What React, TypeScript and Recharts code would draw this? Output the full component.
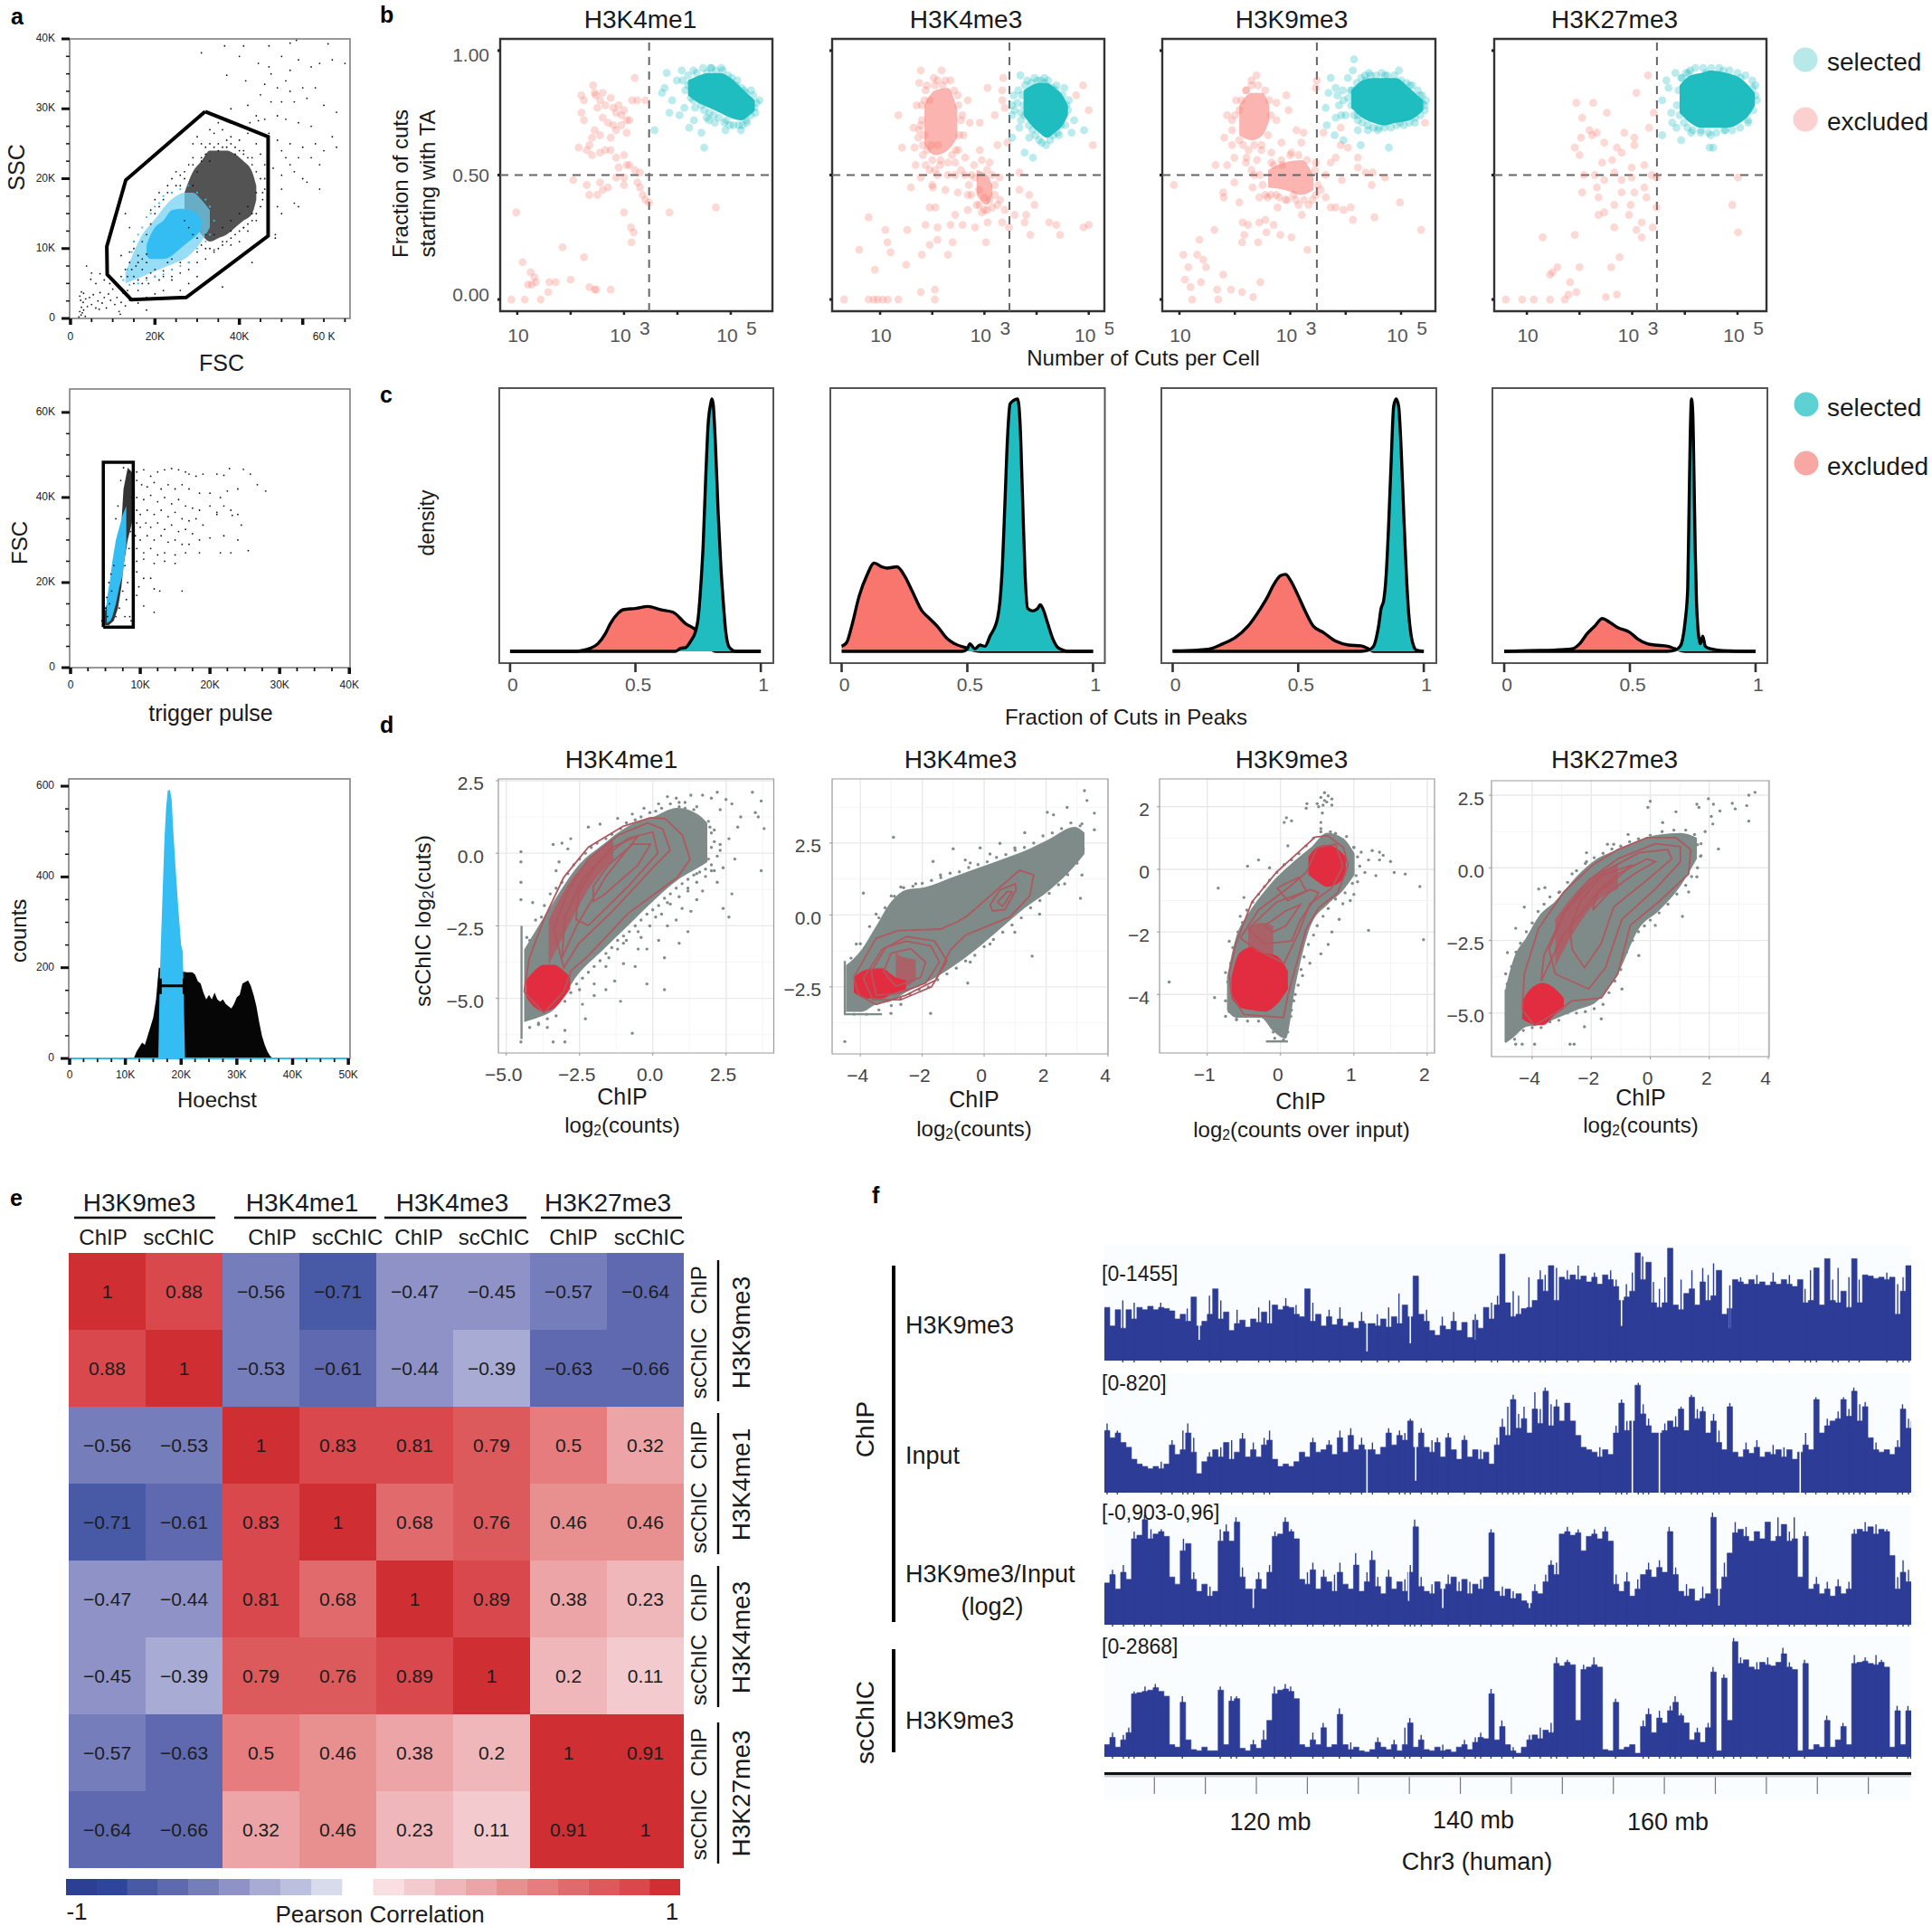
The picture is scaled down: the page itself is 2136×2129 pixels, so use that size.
import React from 'react';
import { ComposedChart, BarChart, Area, Bar, Cell, Scatter, XAxis, YAxis, ReferenceLine, ReferenceArea, CartesianGrid, Line } from 'recharts';

const FONT = '"Liberation Sans", Arial, sans-serif';
type P = number[];

// ---------- panel a ----------
const gateA1: P[] = [[31.9,29.6],[46.8,26],[46.8,11.8],[27.4,3],[14.4,2.7],[8.7,6.3],[8.6,10.3],[13.1,19.8],[31.9,29.6]];
const a1Dots: P[] = [[36.5,39],[41,39],[47,39],[52,39.4],[53.5,39.8],[61,39.3],[31,38],[40,37.5],[44.5,36.5],[47,36],[50,37.5],[54,37],[57,36],[59,36.5],[62,37],[65,36.5],[52,35.5],[41.5,34],[47.5,35],[51,34],[46,33.5],[37,34.8],[49,33],[52,32.5],[55,33],[58,33],[45,32],[47.5,31],[50,31],[53,31],[56,31.5],[60,30.5],[63,29.5],[38,30],[42,30.5],[44,29],[46,28.5],[49,29],[51,28.5],[54,28],[57,27.5],[42.5,28],[44.5,28.3],[47,26.5],[49,25.5],[52,25],[55,24.5],[58,25],[60,24],[62,26],[63,24.5],[50,24],[51,23],[54,23],[57,23],[59,22],[52,22],[48,21.5],[50,20.5],[53,21],[55,20],[56,19.5],[59,18.5],[50,18.5],[53,16.5],[49,16],[54,16],[50,15],[48.5,12],[48.5,11.5],[43,8],[36,4.5],[30,26],[32,24.5],[34,26.5],[36,27],[38,26],[40,25.5],[42,26.5],[44,25],[29,23],[31,22.5],[33,22.5],[35,24],[37,24.5],[39,23.5],[41,24],[43,23],[45,23.5],[46,20],[46,22],[45.5,18],[28,22],[27,20],[26,19],[25,21],[24,18],[44,14],[42,12.5],[43,15],[41,13],[40,11],[38,10.5],[36,11],[34,9.5],[32,8.5],[30,8],[38,12.5],[30,6],[28,5],[26,4],[24,5.5],[22,4],[20,3.5],[18,3],[16,4],[15,6],[17,7],[14,8],[16,9],[13,7],[12,9],[12,6],[18,8],[20,7],[22,6],[24,7],[26,6.5],[28,7],[18.5,5],[15,11],[14,13],[13,15],[2,0.2],[2.2,1],[2.5,0.5],[2.6,1.6],[2.8,0.8],[3,2.3],[3.1,1.2],[3.5,0.3],[3.6,2.8],[4,1.7],[4.5,3],[5,2],[5.4,3.4],[6,1.5],[6.5,2.5],[6.8,1.3],[7,3.7],[7.5,2.2],[8,3],[8.5,1.5],[9,3.5],[9.5,2.6],[10,4.2],[10.5,2],[11,3],[11.5,1],[12,2.3],[12.5,3.6],[13,1.8],[13.5,4],[14,2.6],[11.8,0.6],[9.3,5],[8,5.5],[6,5],[4.8,5.6],[3.8,7.5],[5,6.5],[2.6,3.8],[2.2,3.2],[2.4,2.6],[3.1,3.6],[7,6.4],[18,1.2],[16,2.2]];
const a1Dense: P[] = [[27,14],[28,13],[28,19],[29,12],[29,22],[30,11.5],[30,21],[31,10.5],[31,23],[32,10],[32,23.5],[33,10],[33,25],[34,9.8],[34,24.5],[35,10],[35,25],[36,10.5],[36,24.5],[37,11],[37,25.5],[38,11.5],[38,25],[39,12],[39,24.5],[40,12.5],[40,24],[41,13],[41,23.5],[42,13.5],[42,23],[43,14],[43,22],[44,15],[44,21],[45,16],[45,20],[45.5,17],[46,18.5],[24,6],[23,8],[22,6.8],[21,5.5],[20,6],[19,6.5],[18,5.8],[17,5],[16,5.5],[15,5],[14.5,7],[13.5,6],[15.5,7.5],[17,8.5],[18,9.2],[16,8],[14,9.5],[15,10],[17,11],[18,12],[19,13.5],[20,15],[21,16],[22,17],[23,18],[25,19],[26,20.5],[27,21],[24,20],[23,19],[21,18],[20,17],[19,15.5],[29,19],[30,9.5],[28,8],[26,8],[24,8.5],[32,12],[34,12],[36,13],[38,14],[40,15],[42,16],[44,18],[31,25],[33,27],[35,28],[29,25],[38,28]];
const a1BlueDots: P[] = [[12.5,5.5],[13.5,7],[14.5,9.5],[15,11],[16,12],[17,13],[18,14.5],[19,15],[20,16],[21,16.5],[22,17.5],[24,18],[26,18.5],[28,19],[30,18],[32,17],[33,16],[34,14],[33,12],[32,11],[30,10],[28,8],[26,7.5],[24,7],[22,6.3],[20,6],[18,5.5],[16,5],[14,4.8]];
const a1Black: P[] = [[27,15,18],[29,13.5,21],[31,12,22.5],[33,11,24],[35,11.5,24],[37,12,24],[39,13,23.5],[41,14,22.5],[43,15,21],[44,17,19]];
const a1Halo: P[] = [[13,5,6.5],[15,5.5,9.5],[17,6,12],[19,6.5,13.5],[21,7,15],[23,7.5,16.5],[25,8,17.5],[27,8.5,18],[29,9.5,18],[31,11,17],[33,13,15.5]];
const a1Core: P[] = [[18,9,10.5],[19,8.5,12],[20,8.5,13],[22,8.5,14],[24,9,15.5],[26,10,15.7],[28,11,15.5],[30,12,15],[31,12.8,14]];
const gateA2: P[] = [[4.7,9.5],[9,9.5],[9,48.3],[4.7,48.3],[4.7,9.5]];
const a2Dots: P[] = [[9.5,46],[10.5,46.5],[11.5,45],[12.5,46],[13.5,46.5],[14.5,46.8],[15.5,46.5],[16.5,46],[17,45.5],[18,45],[19,45.5],[21,45.5],[22,45.2],[22.8,46.8],[24.8,46.6],[25.8,45.5],[26.8,43],[28,41.5],[9.5,44],[10.2,43],[11,42.5],[12,43.5],[13,42],[14,43],[15,42],[16,43],[17,42],[18.5,41],[20,41],[21.5,40],[22.5,41.5],[24,42],[9.5,40],[10.5,39.5],[11.5,40.5],[12.5,39],[13.5,40],[14.5,38.5],[15.5,39.5],[16.5,38],[17.5,37.5],[18.5,37],[20,38],[21,36.5],[22,38],[23,37],[24,36],[9.5,37],[10,36],[11,37],[12,36],[13,37],[14,35.5],[15,36.5],[16,35],[17,34.5],[18,35],[19,33.5],[21,36],[23.2,35.8],[24.5,33.5],[9.5,34],[10,33],[10.8,34],[11.5,33],[12.5,34],[13.5,32.5],[14.5,33.5],[15.5,32],[16.5,32.5],[17.5,31.5],[18.5,30],[20,30.5],[22,31],[24,30],[9.3,31],[10,30],[11,31],[12,30],[13,31],[14,29.5],[15,30],[16,29],[17,29],[18.5,27],[9.5,28],[10.5,27],[11.5,28],[12.5,26.5],[13.5,27],[15,26.5],[16.5,27],[21.5,27],[23,27],[25.5,27.5],[9.5,25],[10.5,25.5],[12,24.5],[13.5,25],[15,24.5],[9.5,22.5],[10.5,21],[11.5,21],[9.8,19],[12,18.5],[12.8,18],[16,18],[9.5,17],[10.5,14.5],[12,13],[4.5,11],[5.3,12],[5.6,15],[5.9,18],[5,14],[5.2,16.5],[5.5,20],[5.8,22],[6.2,24],[7.8,12],[8,16],[8.2,20],[7.5,18],[7.8,24],[8.5,12],[8.7,11],[7,14],[6.5,12],[8.4,28],[8.6,32],[8.9,36],[8.8,40],[8.4,46],[7.6,47],[7.2,44],[6.8,38],[6.5,35]];
const a2Black: P[] = [[4.9,10,13],[5.5,10,17],[6.2,11,22],[6.8,14,27],[7.3,19,34],[7.6,24,42],[8.2,30,47],[8.8,34,46],[9,38,44]];
const a2Blue: P[] = [[5.2,10.5,16],[5.7,11,21],[6,12,25],[6.5,15,30],[7,19,33],[7.5,22,36],[8,29,38]];
const histBlack: P[] = [[11.5,0],[12,15],[12.5,25],[13,35],[13.5,30],[14,50],[14.5,70],[15,90],[15.5,130],[16,200],[21,190],[22,190],[22.5,185],[23,170],[23.5,165],[24,145],[24.5,130],[25,140],[25.5,130],[26,145],[26.5,130],[27,125],[27.5,130],[28,120],[29,110],[29.5,120],[30,135],[30.5,140],[31,165],[32,172],[32.5,160],[33,140],[33.5,115],[34,80],[34.5,50],[35,30],[35.5,15],[36,5],[36.5,0]];
const histBlue: P[] = [[15.9,0],[16.2,190],[16.5,300],[17,480],[17.3,550],[17.6,590],[18,592],[18.3,570],[18.6,500],[19,420],[19.5,330],[20,250],[20.3,235],[20.7,0]];

// ---------- panel b ----------
const b1Ex: P[] = [[0.89,0],[1.14,0],[1.44,0],[1.58,0.03],[1.2,0.06],[1.27,0.06],[1.35,0.07],[1.32,0.09],[1.6,0.07],[1.72,0.07],[2,0.08],[2.35,0.05],[2.45,0.04],[2.48,0.04],[2.75,0.04],[1.1,0.15],[1.25,0.11],[1.85,0.21],[2.25,0.17],[0.98,0.35],[3.14,0.23],[3.18,0.27],[3.13,0.29],[3,0.35],[2.2,0.82],[2.25,0.8],[2.42,0.86],[2.45,0.83],[2.47,0.82],[2.5,0.77],[2.55,0.8],[2.6,0.83],[2.65,0.78],[2.75,0.81],[2.8,0.77],[2.85,0.75],[2.9,0.78],[2.95,0.74],[3,0.76],[3.05,0.72],[3.15,0.8],[3.25,0.8],[3.4,0.8],[3.2,0.89],[2.2,0.75],[2.25,0.72],[2.6,0.73],[2.7,0.71],[2.8,0.7],[2.85,0.68],[2.95,0.7],[3.05,0.67],[3.1,0.72],[2.45,0.68],[2.4,0.65],[2.55,0.66],[2.75,0.65],[2.35,0.62],[2.15,0.61],[2.3,0.6],[2.4,0.58],[2.55,0.59],[2.65,0.6],[2.75,0.6],[2.85,0.57],[3,0.58],[3.05,0.54],[2.9,0.53],[3.1,0.54],[3.2,0.52],[3.3,0.51],[3,0.49],[2.85,0.49],[2.05,0.48],[2.3,0.46],[2.55,0.47],[2.6,0.44],[2.35,0.42],[2.5,0.42],[2.7,0.45],[3,0.46],[3.25,0.47],[3.3,0.45],[3.35,0.42],[3.4,0.4],[3.47,0.39],[3.85,0.35],[4.72,0.37]];
const b1Sel: P[] = [[3.57,0.68],[3.8,0.91],[4.08,0.92],[3.76,0.85],[3.71,0.83],[3.99,0.88],[3.9,0.8],[4.13,0.77],[3.85,0.75],[4.04,0.74],[4.22,0.69],[4.45,0.67],[4.5,0.61],[4.31,0.72],[4.59,0.72],[4.92,0.72],[5.19,0.68],[5.29,0.72],[5.54,0.8],[5.44,0.77],[5.38,0.84],[4.82,0.93],[4.64,0.93],[4.36,0.91],[4.2,0.86],[4.25,0.81],[5.1,0.86],[5.25,0.84],[4.2,0.9],[4.25,0.87],[4.3,0.92],[4.35,0.84],[4.4,0.88],[4.42,0.8],[4.48,0.93],[4.5,0.76],[4.55,0.91],[4.6,0.75],[4.62,0.93],[4.68,0.74],[4.72,0.92],[4.78,0.73],[4.85,0.92],[4.88,0.71],[4.95,0.9],[4.98,0.7],[5.02,0.89],[5.05,0.7],[5.12,0.88],[5.15,0.7],[5.2,0.85],[5.22,0.7],[5.28,0.83],[5.3,0.71],[5.35,0.8],[5.38,0.74],[5.42,0.82],[5.48,0.79],[5.46,0.75],[4.3,0.8],[4.15,0.84],[4.1,0.88],[4.45,0.78],[4.33,0.77],[4.55,0.73],[4.7,0.71],[4.9,0.68],[5.05,0.74]];
const b1SelCore: P[] = [[4.2,0.82,0.88],[4.4,0.79,0.9],[4.6,0.77,0.91],[4.8,0.75,0.91],[5,0.73,0.89],[5.2,0.72,0.85],[5.35,0.74,0.82],[5.45,0.76,0.8]];
const b2Ex: P[] = [[0.31,0],[0.78,0],[0.88,0],[0.95,0],[1.05,0],[1.15,0],[1.35,0],[1.78,0.03],[2.05,0],[2.05,0.04],[0.9,0.12],[0.6,0.2],[0.78,0.33],[1.1,0.28],[1.14,0.23],[1.2,0.19],[1.5,0.14],[1.52,0.28],[1.8,0.18],[1.95,0.22],[2.1,0.24],[2.3,0.18],[2.39,0.23],[3.03,0.23],[1.87,0.3],[2.1,0.29],[2.35,0.3],[2.58,0.3],[2.82,0.29],[3.06,0.31],[3.34,0.31],[3.47,0.29],[3.77,0.31],[3.88,0.26],[4.24,0.31],[4.45,0.26],[4.38,0.3],[4.9,0.29],[5,0.3],[1.95,0.37],[2.06,0.37],[2.44,0.34],[2.68,0.36],[3.15,0.37],[3.39,0.36],[3.58,0.34],[3.8,0.34],[3.96,0.38],[3.86,0.42],[3.67,0.44],[3.67,0.51],[1.59,0.45],[1.78,0.49],[2.01,0.45],[2.25,0.44],[2.49,0.43],[2.68,0.42],[2,0.46],[2.44,0.5],[2.82,0.49],[3.29,0.49],[1.35,0.74],[1.42,0.61],[1.68,0.54],[1.73,0.65],[1.66,0.61],[1.64,0.69],[1.78,0.92],[1.75,0.87],[2.18,0.92],[2.03,0.89],[1.87,0.84],[2.49,0.82],[2.68,0.8],[2.58,0.74],[2.72,0.71],[2.91,0.71],[3.2,0.74],[3.06,0.85],[3.36,0.89],[3.34,0.84],[3.34,0.8],[3.39,0.77],[3.25,0.62],[3.44,0.63],[2.91,0.6],[3.1,0.55],[2.63,0.57],[2.44,0.55],[2.16,0.56],[1.82,0.58],[1.87,0.54],[2.11,0.62],[4.89,0.86],[4.76,0.82],[5,0.76],[5.08,0.62],[1.7,0.78],[1.8,0.72],[1.85,0.66],[1.9,0.6],[2.5,0.6],[2.6,0.66],[2.75,0.5],[2.55,0.52],[2.3,0.5],[2.1,0.5],[3.2,0.42],[3.3,0.4],[2.9,0.38],[3,0.41],[1.75,0.68],[1.8,0.78],[1.85,0.8],[1.9,0.86],[1.95,0.8],[1.98,0.62],[2,0.56],[2.05,0.86],[2.1,0.88],[2.15,0.54],[2.2,0.86],[2.25,0.88],[2.3,0.55],[2.35,0.88],[2.38,0.58],[2.42,0.84],[2.45,0.6],[2.5,0.78],[2.52,0.66],[2.55,0.72],[1.82,0.62],[1.78,0.7],[2.62,0.5],[2.7,0.46],[2.75,0.42],[2.8,0.54],[2.85,0.38],[2.9,0.44],[2.95,0.56],[3,0.36],[3.05,0.52],[3.1,0.4],[3.15,0.5],[3.2,0.46],[3.25,0.38],[3.05,0.36],[2.95,0.35],[1.95,0.52],[2.05,0.52]];
const b2ExCore: P[] = [[1.85,0.62,0.78],[2.05,0.58,0.84],[2.3,0.6,0.85],[2.48,0.65,0.76]];
const b2ExCore2: P[] = [[2.85,0.42,0.52],[3.05,0.38,0.5],[3.15,0.42,0.46]];
const b2Sel: P[] = [[3.53,0.74],[3.53,0.78],[3.69,0.9],[3.82,0.88],[3.56,0.82],[3.77,0.74],[3.67,0.69],[3.53,0.65],[3.86,0.65],[3.77,0.59],[3.93,0.57],[4.15,0.67],[4.43,0.66],[4.67,0.67],[4.91,0.68],[4.72,0.72],[4.62,0.8],[4.53,0.85],[4.15,0.89],[4.38,0.86],[3.96,0.89],[4.1,0.69],[4.29,0.69],[3.63,0.79],[3.72,0.82],[3.75,0.78],[3.78,0.86],[3.85,0.7],[3.88,0.82],[3.9,0.87],[3.92,0.68],[3.95,0.75],[3.98,0.66],[4.02,0.88],[4.05,0.64],[4.08,0.88],[4.1,0.63],[4.15,0.87],[4.18,0.62],[4.22,0.88],[4.26,0.64],[4.3,0.85],[4.32,0.66],[4.37,0.84],[4.4,0.67],[4.42,0.82],[4.47,0.7],[4.5,0.82],[4.52,0.74],[4.57,0.78],[4.6,0.76],[4.55,0.7],[3.7,0.75],[3.65,0.84],[3.58,0.76],[3.7,0.72],[3.85,0.78],[4.45,0.76]];
const b2SelCore: P[] = [[3.75,0.74,0.84],[3.9,0.7,0.86],[4.05,0.67,0.87],[4.2,0.65,0.87],[4.35,0.67,0.85],[4.5,0.7,0.82],[4.6,0.74,0.78]];
const b3Ex: P[] = [[1.23,0],[1.7,0],[1.2,0.05],[1.1,0.08],[1.39,0.07],[1.68,0.04],[1.93,0.04],[2.13,0.03],[2.33,0.01],[2.46,0.07],[1.79,0.1],[1.16,0.13],[1.48,0.13],[1.43,0.16],[1.07,0.18],[1.32,0.18],[1.36,0.24],[1.63,0.28],[2.13,0.23],[2.42,0.23],[2.17,0.26],[2.57,0.27],[2.82,0.26],[3.02,0.25],[3.31,0.2],[2.14,0.31],[2.24,0.3],[2.44,0.31],[2.55,0.32],[2.7,0.3],[5.36,0.28],[0.9,0.46],[1.79,0.43],[1.8,0.41],[2.08,0.39],[1.99,0.47],[2.32,0.45],[2.44,0.41],[2.59,0.41],[2.75,0.42],[2.77,0.37],[2.91,0.4],[3.06,0.42],[3.21,0.34],[3.15,0.38],[3.33,0.38],[3.46,0.42],[3.64,0.41],[3.73,0.37],[3.82,0.37],[3.96,0.36],[4.09,0.37],[4.13,0.32],[4.52,0.33],[4.98,0.39],[4.47,0.46],[3.93,0.48],[4.71,0.49],[4.49,0.51],[4.36,0.51],[4.22,0.53],[4.22,0.57],[4.04,0.61],[3.91,0.62],[3.73,0.55],[3.82,0.57],[3.91,0.69],[3.6,0.67],[3.46,0.85],[3.48,0.88],[5.43,0.71],[1.65,0.54],[1.86,0.54],[1.99,0.57],[1.81,0.65],[1.95,0.62],[1.86,0.74],[1.95,0.72],[2.08,0.76],[2.21,0.84],[2.3,0.88],[2.39,0.9],[2.93,0.82],[2.97,0.76],[2.75,0.79],[2.75,0.72],[3.11,0.68],[3.24,0.67],[3.2,0.63],[2.84,0.63],[3.02,0.59],[2.66,0.59],[2.48,0.6],[2.21,0.57],[2.3,0.52],[2.66,0.55],[2.84,0.56],[3.64,0.5],[3.46,0.55],[1.95,0.68],[2,0.74],[2.02,0.8],[2.08,0.64],[2.12,0.8],[2.15,0.62],[2.2,0.84],[2.25,0.6],[2.3,0.86],[2.35,0.62],[2.42,0.86],[2.48,0.62],[2.55,0.84],[2.6,0.66],[2.65,0.74],[2.62,0.8],[2.2,0.55],[2.35,0.5],[2.45,0.5],[2.5,0.46],[2.55,0.42],[2.65,0.42],[2.7,0.54],[2.8,0.41],[2.85,0.54],[2.95,0.4],[3,0.58],[3.1,0.4],[3.15,0.58],[3.25,0.4],[3.3,0.56],[3.4,0.4],[3.45,0.52],[3.5,0.46],[3.55,0.44],[2.4,0.56]];
const b3ExCore: P[] = [[2.08,0.66,0.78],[2.3,0.64,0.83],[2.5,0.66,0.83],[2.62,0.72,0.78]];
const b3ExCore2: P[] = [[2.6,0.45,0.52],[2.9,0.44,0.55],[3.2,0.42,0.56],[3.42,0.44,0.5]];
const b3Sel: P[] = [[4.15,0.965],[4.13,0.92],[3.73,0.89],[4.04,0.89],[4.42,0.91],[4.71,0.9],[4.96,0.92],[3.69,0.83],[3.82,0.85],[3.96,0.8],[3.64,0.77],[4,0.74],[4.22,0.74],[3.82,0.73],[3.66,0.7],[3.8,0.66],[3.96,0.64],[4.27,0.62],[4.78,0.61],[4.22,0.68],[4.4,0.68],[4.58,0.68],[4.71,0.71],[4.98,0.71],[5.25,0.71],[5.38,0.79],[5.43,0.76],[5.34,0.82],[5.16,0.86],[4.18,0.84],[4.36,0.88],[4.09,0.84],[4.1,0.78],[4.12,0.84],[4.15,0.74],[4.2,0.87],[4.22,0.72],[4.28,0.89],[4.3,0.71],[4.35,0.9],[4.4,0.7],[4.45,0.9],[4.5,0.69],[4.55,0.9],[4.6,0.69],[4.65,0.91],[4.7,0.69],[4.75,0.9],[4.82,0.69],[4.88,0.9],[4.92,0.7],[5,0.88],[5.05,0.7],[5.1,0.87],[5.15,0.71],[5.2,0.86],[5.25,0.73],[5.3,0.84],[5.35,0.74],[5.38,0.82],[5.42,0.78],[5.45,0.8],[4.05,0.81],[3.95,0.84],[3.88,0.78],[3.85,0.82],[3.92,0.74]];
const b3SelCore: P[] = [[4.1,0.77,0.84],[4.3,0.73,0.88],[4.5,0.71,0.89],[4.7,0.7,0.89],[4.9,0.71,0.89],[5.15,0.72,0.85],[5.3,0.74,0.82],[5.4,0.76,0.8]];
const b4Ex: P[] = [[0.6,0],[0.91,0],[1.13,0],[1.44,0],[1.72,0],[1.79,0.02],[1.94,0.03],[2.5,0.01],[2.71,0.02],[1.82,0.07],[1.44,0.1],[1.49,0.11],[1.58,0.13],[2,0.13],[2.6,0.13],[2.76,0.17],[1.3,0.25],[1.91,0.26],[2.66,0.29],[3.08,0.28],[3.18,0.25],[3.18,0.31],[3.39,0.29],[5.01,0.27],[4.9,0.38],[5.01,0.49],[3.46,0.37],[2.36,0.34],[2.47,0.35],[2.66,0.38],[2.94,0.34],[2.97,0.38],[3.27,0.41],[3.23,0.45],[2.36,0.41],[2.33,0.45],[2.05,0.43],[2.47,0.48],[2.8,0.48],[3.04,0.43],[3.46,0.49],[2.08,0.5],[2.29,0.5],[2.99,0.53],[3.23,0.54],[2.62,0.56],[2.8,0.59],[3.04,0.62],[2.71,0.61],[2.47,0.63],[2.33,0.67],[2.19,0.68],[2.03,0.65],[1.91,0.61],[2,0.58],[2.85,0.67],[3.04,0.65],[3.32,0.69],[2.24,0.66],[1.94,0.79],[2.26,0.79],[2.05,0.73],[2.52,0.75],[3.08,0.83],[3.3,0.9],[3.41,0.75],[2.43,0.55],[2.99,0.49],[2.66,0.51],[3.37,0.5],[2.8,0.43]];
const b4Sel: P[] = [[3.82,0.91],[3.65,0.88],[3.69,0.85],[3.57,0.8],[3.74,0.75],[3.76,0.71],[3.84,0.69],[3.57,0.66],[3.93,0.64],[4.12,0.67],[4.31,0.68],[4.49,0.66],[4.47,0.61],[4.54,0.61],[4.77,0.68],[5.2,0.71],[5.29,0.85],[5.34,0.86],[4.73,0.92],[4.4,0.91],[4.07,0.91],[5.06,0.89],[3.93,0.89],[3.85,0.78],[3.88,0.84],[3.9,0.74],[3.95,0.89],[3.98,0.71],[4.02,0.91],[4.05,0.69],[4.1,0.92],[4.15,0.68],[4.2,0.93],[4.3,0.67],[4.35,0.93],[4.45,0.67],[4.5,0.93],[4.6,0.67],[4.65,0.93],[4.75,0.68],[4.85,0.92],[4.9,0.68],[5,0.91],[5.05,0.69],[5.15,0.9],[5.2,0.72],[5.28,0.88],[5.3,0.76],[5.34,0.82],[5.37,0.8]];
const b4SelCore: P[] = [[3.9,0.75,0.86],[4.1,0.71,0.9],[4.3,0.69,0.91],[4.5,0.69,0.92],[4.8,0.69,0.91],[5.05,0.71,0.89],[5.25,0.75,0.85],[5.33,0.78,0.83]];

// ---------- panel c ----------
const c1Ex: P[] = [[0,0],[0.25,0],[0.28,0.002],[0.32,0.012],[0.35,0.03],[0.38,0.07],[0.4,0.11],[0.43,0.15],[0.45,0.165],[0.5,0.17],[0.55,0.178],[0.6,0.165],[0.65,0.155],[0.7,0.11],[0.74,0.085],[0.78,0.03],[0.82,0],[1,0]];
const c1Sel: P[] = [[0,0],[0.66,0],[0.68,0.012],[0.7,0.015],[0.72,0.04],[0.74,0.08],[0.75,0.13],[0.76,0.25],[0.77,0.42],[0.78,0.68],[0.79,0.9],[0.8,0.98],[0.805,1],[0.81,0.98],[0.82,0.8],[0.83,0.55],[0.84,0.35],[0.85,0.2],[0.86,0.08],[0.87,0.025],[0.88,0.01],[0.9,0],[1,0]];
const c2Ex: P[] = [[0,0.02],[0.02,0.035],[0.04,0.1],[0.07,0.22],[0.1,0.3],[0.13,0.35],[0.16,0.335],[0.18,0.33],[0.22,0.335],[0.25,0.3],[0.28,0.24],[0.32,0.16],[0.35,0.13],[0.38,0.1],[0.42,0.05],[0.45,0.03],[0.5,0.012],[0.52,0.005],[0.55,0],[1,0]];
const c2Sel: P[] = [[0,0],[0.48,0],[0.5,0.01],[0.51,0.03],[0.53,0.01],[0.55,0.025],[0.57,0.02],[0.59,0.06],[0.62,0.13],[0.63,0.2],[0.64,0.35],[0.65,0.6],[0.66,0.85],[0.67,0.98],[0.685,0.995],[0.7,1],[0.71,0.9],[0.72,0.6],[0.73,0.3],[0.74,0.17],[0.76,0.16],[0.78,0.17],[0.79,0.185],[0.8,0.17],[0.82,0.11],[0.84,0.05],[0.86,0.015],[0.88,0.005],[0.9,0],[1,0]];
const c3Ex: P[] = [[0,0.002],[0.1,0.005],[0.15,0.01],[0.2,0.03],[0.25,0.055],[0.3,0.1],[0.35,0.17],[0.38,0.22],[0.4,0.26],[0.43,0.3],[0.45,0.305],[0.47,0.28],[0.5,0.22],[0.53,0.155],[0.56,0.1],[0.6,0.075],[0.65,0.04],[0.7,0.025],[0.75,0.022],[0.78,0.01],[0.8,0],[1,0]];
const c3Sel: P[] = [[0,0],[0.75,0],[0.78,0.005],[0.8,0.02],[0.81,0.05],[0.82,0.1],[0.83,0.17],[0.84,0.2],[0.85,0.3],[0.86,0.5],[0.87,0.75],[0.88,0.97],[0.89,1],[0.9,0.97],[0.91,0.8],[0.92,0.55],[0.93,0.32],[0.94,0.15],[0.95,0.06],[0.96,0.02],[0.97,0.005],[1,0]];
const c4Ex: P[] = [[0,0],[0.1,0.003],[0.2,0.005],[0.27,0.01],[0.3,0.03],[0.33,0.07],[0.36,0.1],[0.39,0.13],[0.42,0.115],[0.45,0.095],[0.5,0.075],[0.53,0.05],[0.57,0.03],[0.6,0.025],[0.65,0.02],[0.68,0.01],[0.72,0],[1,0]];
const c4Sel: P[] = [[0,0],[0.65,0],[0.68,0.005],[0.7,0.02],[0.71,0.05],[0.72,0.12],[0.73,0.25],[0.735,0.55],[0.74,0.85],[0.745,1],[0.75,0.95],[0.755,0.7],[0.76,0.4],[0.765,0.2],[0.77,0.1],[0.775,0.05],[0.78,0.03],[0.79,0.06],[0.8,0.02],[0.82,0.01],[0.85,0.005],[0.9,0.002],[1,0]];

// ---------- panel d ----------
const d1Core: P[] = [[-4.39,-5.81,-3.32],[-3.89,-5.65,-2.49],[-3.38,-5.39,-1.66],[-2.53,-4.15,-0.41],[-1.69,-3.32,0.31],[-0.84,-2.49,0.93],[0,-1.66,1.24],[0.84,-0.93,1.56],[1.52,-0.52,1.35],[1.86,-0.31,1.04]];
const d1Dots: P[] = [[0.8,1.9],[1.1,1.75],[1.3,2],[1.5,1.6],[1.7,2],[2,1.9],[2.2,2.1],[2.3,1.5],[2.5,1.85],[2.7,1.7],[3,1.25],[3.4,2.1],[3.5,1.4],[3.6,1.25],[3.7,1.8],[3.8,0.85],[3.7,-0.6],[2.9,0.9],[2.6,0.5],[2.8,-0.2],[2.4,-0.5],[2.2,-1],[2,-0.6],[2.7,-1.4],[2.4,-1.9],[2.6,-2.2],[1.7,-1.3],[1.5,-1.6],[1.3,-2],[1,-1.9],[0.8,-2.3],[0.5,-2.5],[0.2,-3],[0.4,-3.6],[0.9,-3.1],[1.2,-2.7],[-0.2,-3.3],[-0.5,-3.3],[-1,-3.8],[-1.3,-4.4],[-0.6,-3.9],[-0.2,-4.5],[0.4,-4.7],[-1.6,-4.7],[-2,-4.9],[-2.4,-5.2],[-1.1,-5.1],[-0.7,-6.2],[-2.3,-5.7],[-3,-6.1],[-3.4,-6.5],[-3,-6.5],[-4.5,-6.5],[-4.5,0.05],[-4.5,-0.3],[-4.5,-1],[-4.5,-1.6],[-4.1,-1.7],[-3.2,-0.3],[-3.4,0.3],[-3.1,0.35],[-3.3,-0.6],[-2.9,0.15],[-2.8,0.5],[-2.2,0.9],[-1.8,1],[-1.2,1.2],[-0.7,1.35],[-0.3,1.55],[0.2,1.7],[0.5,1.95],[0.9,1.6],[1.3,1.4],[1.6,1.2],[1.9,1.1],[2.1,0.8],[2.3,0.3],[2,0.2],[1.7,0.5],[1.9,-0.2],[1.5,-0.7],[1.2,-1.3],[-0.4,-2.9],[0.1,-2.2],[0.5,-1.7],[-1,-3.1],[-1.6,-3.9],[-2,-4.5],[-2.5,-4.7],[-3.6,-6],[-3.9,-5.9]];
const d1Rim: P[] = [[-4.3,-2.9],[-4.2,-3],[-4,-2.3],[-3.8,-2.2],[-3.7,-1.8],[-3.5,-1.4],[-3.3,-1.2],[-3.1,-1],[-2.9,-0.7],[-2.7,-0.4],[-2.5,-0.2],[-2.3,0],[-2.1,0.2],[-1.9,0.35],[-1.6,0.5],[-1.4,0.65],[-1.1,0.85],[-0.9,1.05],[-0.6,1.15],[-0.4,1.25],[-0.1,1.4],[0.1,1.45],[0.3,1.55],[0.6,1.7],[0.9,1.75],[-4.2,-6],[-3.9,-5.85],[-3.6,-5.7],[-3.3,-5.6],[-3,-5.1],[-2.8,-4.8],[-2.6,-4.5],[-2.4,-4.3],[-2.2,-4.1],[-2,-3.9],[-1.8,-3.7],[-1.6,-3.45],[-1.4,-3.25],[-1.2,-3],[-1,-2.85],[-0.8,-2.7],[-0.6,-2.5],[-0.4,-2.3],[-0.2,-2.1],[0,-1.95],[0.2,-1.8],[0.4,-1.55],[0.6,-1.4],[0.8,-1.2],[1,-1.05],[1.2,-0.9],[1.4,-0.75],[1.6,-0.65],[1.8,-0.55],[2,-0.4],[2.2,-0.1],[2.3,0.1],[2.1,0.4],[2,0.7],[1.95,0.9],[1.7,1.1],[1.4,1.5],[1.1,1.55],[-1.5,-3.6],[-1.2,-3.3],[-0.9,-3],[-0.5,-2.7],[-0.1,-2.5],[0.3,-2.1],[0.6,-1.75],[0.9,-1.5],[1.2,-1.2],[1.5,-1],[1.8,-0.8],[2.1,-0.6]];
const d1Col: P[] = [[-4.48,-2.5],[-4.48,-6.4]];
const d1Bright: P[] = [[-4.31,-4.98,-4.36],[-4.05,-5.29,-4.05],[-3.72,-5.45,-3.84],[-3.38,-5.34,-3.84],[-3.04,-4.98,-4.05],[-2.82,-4.67,-4.25]];
const d1Ridge: P[] = [[-3.55,-3.84,-2.28],[-2.87,-2.49,-1.04],[-2.2,-1.24,-0.21],[-1.35,-0.21,0.52]];
const d1Contours: P[][] = [
  [[-4.39,-4.77],[-3.72,-5.5],[-3.04,-4.77],[-2.79,-4.05],[-2.2,-3.53],[-0.84,-2.07],[0.84,-0.83],[1.27,-0.21],[1.01,0.62],[0.42,1.19],[-0.08,1.22],[-1.01,0.93],[-2.2,0.21],[-3.04,-0.83],[-3.72,-2.28],[-4.22,-3.63],[-4.39,-4.77]],
  [[-2.53,-3.11],[-1.35,-1.97],[0.08,-0.41],[0.59,0.1],[0.34,0.83],[-0.17,1.04],[-1.18,0.62],[-2.2,-0.21],[-2.87,-1.24],[-3.38,-2.59],[-3.04,-3.94],[-2.53,-3.11]],
  [[-2.2,-2.49],[-0.84,-1.14],[0.17,0],[0,0.73],[-0.84,0.52],[-1.86,-0.31],[-2.53,-1.35],[-2.62,-2.28],[-2.2,-2.49]],
  [[-1.69,-1.45],[-0.51,-0.41],[-0.08,0.31],[-0.68,0.31],[-1.52,-0.41],[-2.03,-1.14],[-2.03,-1.66],[-1.69,-1.45]],
  [[-3.1,-3.6],[-2.6,-2.5],[-1.6,-0.8],[-0.5,0.6],[-1.4,0.2],[-2.4,-0.9],[-3,-2.2],[-3.1,-3.6]],
];
const d2Core: P[] = [[-4.46,-3.37,-1.75],[-3.97,-3.37,-1.22],[-3.49,-3.11,-0.39],[-3.01,-3,0.45],[-2.53,-2.69,0.87],[-1.89,-2.37,0.97],[-1.09,-1.85,1.29],[-0.29,-1.22,1.6],[0.51,-0.49,1.91],[1.31,0.24,2.23],[2.12,0.87,2.65],[2.92,1.7,3.06],[3.24,2.12,2.86]];
const d2Dots: P[] = [[-3.9,0.76],[-2.93,2.7],[-1,2.3],[-0.13,2.33],[-1.65,1.86],[-0.45,1.81],[0.51,2.49],[1.31,2.86],[2.04,3.57],[2.24,3.48],[2.68,3.74],[3.24,4.32],[3.32,3.98],[3.56,3.54],[3.56,2.96],[3.16,1.39],[3.11,0.58],[2.44,1.7],[2.92,2.54],[3.16,3.17],[2.28,2.65],[1.63,2.12],[1.55,-1.43],[-0.53,-2.37],[-1.73,-3.42],[-3.01,-3.42],[-2.69,-3.11],[-0.45,-1.64],[0.19,-1.01],[0.99,-0.6],[1.79,0.03],[2.6,1.08],[2.76,1.91],[-2.69,0.97],[-2.21,1.08],[-1.41,1.39],[-0.61,1.91],[0.19,2.12],[0.99,2.33],[-3,0.66],[-3.49,0.03],[-4.13,-1.01],[-4.5,-4.4]];
const d2Rim: P[] = [[-4.3,-1.5],[-4,-1],[-3.7,-0.4],[-3.4,-0.1],[-3.2,0.25],[-2.9,0.65],[-2.6,0.95],[-2.3,1],[-2,1.1],[-1.7,1.2],[-1.4,1.3],[-1.1,1.45],[-0.8,1.5],[-0.5,1.65],[-0.2,1.75],[0.1,1.85],[0.4,2],[0.7,2.1],[1,2.25],[1.3,2.35],[1.6,2.5],[1.9,2.75],[2.2,2.85],[2.5,3],[2.8,3.2],[3.1,3.1],[-4.2,-3.45],[-3.8,-3.45],[-3.4,-3.3],[-3,-3.15],[-2.7,-2.9],[-2.4,-2.75],[-2.1,-2.6],[-1.8,-2.5],[-1.5,-2.25],[-1.2,-2.05],[-0.9,-1.85],[-0.6,-1.6],[-0.3,-1.4],[0,-1.1],[0.3,-0.85],[0.6,-0.6],[0.9,-0.35],[1.2,-0.1],[1.5,0.25],[1.8,0.5],[2.1,0.75],[2.4,1.05],[2.7,1.4],[3,1.8],[3.2,2.3]];
const d2ColA: P[] = [[-4.5,-1.6],[-4.5,-3.45],[-3.3,-3.45]];
const d2Bright: P[] = [[-4.21,-2.69,-2.17],[-3.81,-2.9,-1.9],[-3.33,-2.9,-1.85],[-2.85,-2.69,-2.17],[-2.53,-2.58,-2.27]];
const d2Ridge: P[] = [[-2.85,-2.6,-1.3],[-2.69,-2.58,-1.43],[-2.21,-2.27,-1.54]];
const d2Contours: P[][] = [
  [[-4.21,-2.17],[-3.49,-0.81],[-2.77,-0.54],[-1.41,-0.49],[-0.85,-0.23],[-0.53,-0.02],[0.51,0.97],[1.15,1.55],[1.6,1.39],[1.47,0.66],[0.83,-0.07],[-0.61,-0.7],[-1.09,-1.22],[-1.57,-2.27],[-2.53,-2.79],[-3.49,-3.11],[-4.05,-2.79],[-4.21,-2.17]],
  [[-3.65,-1.96],[-3.17,-1.12],[-2.53,-0.91],[-1.73,-1.07],[-1.44,-1.64],[-1.89,-2.37],[-2.85,-2.74],[-3.49,-2.79],[-3.65,-1.96]],
  [[-3.01,-1.33],[-2.37,-1.17],[-1.89,-1.64],[-2.05,-2.17],[-2.85,-2.48],[-3.25,-1.96],[-3.01,-1.33]],
  [[0.19,0.35],[0.51,0.87],[1,1.08],[1.03,0.87],[0.67,0.19],[0.27,0.14],[0.19,0.35]],
  [[0.43,0.45],[0.75,0.82],[0.9,0.8],[0.6,0.3],[0.43,0.45]],
  [[-3.9,-2.2],[-3.3,-1.2],[-2.5,-0.75],[-1.6,-0.9],[-1.2,-1.6],[-1.7,-2.5],[-2.7,-2.95],[-3.6,-2.95],[-3.9,-2.2]],
];
const d3Core: P[] = [[-0.73,-4.5,-3.44],[-0.61,-4.74,-2.19],[-0.44,-4.74,-1.42],[-0.27,-4.74,-0.85],[-0.1,-5.17,-0.37],[0.07,-5.41,0.02],[0.21,-3.63,0.31],[0.41,-1.81,0.69],[0.64,-1.13,1.17],[0.86,-0.65,0.98],[1.01,-0.17,0.5]];
const d3Dots: P[] = [[0.5,2.1],[0.55,2.3],[0.6,2.2],[0.65,2.35],[0.52,2],[0.58,2.05],[0.63,2.15],[0.7,2.25],[0.35,1.95],[0.36,2.1],[0.6,2.45],[0.7,2.05],[0.57,1.8],[0.05,1.5],[0.08,1.65],[0.15,1.55],[0.55,1.5],[0.55,1.3],[0.68,1.2],[0.1,0.75],[-0.15,0.05],[-0.45,0.1],[-0.3,0.3],[-0.85,-0.6],[-1.52,-3.6],[-0.9,-4.1],[-0.75,-4.7],[-0.6,-4.8],[1,0.7],[1.1,0.55],[1.25,0.6],[1.35,0.55],[1.4,0.45],[1.5,0.25],[1.2,0.3],[1.35,0.3],[1.55,-0.1],[1.7,-0.15],[1.9,-0.55],[1.3,-0.2],[1.15,-0.1],[1.05,-0.4],[1,-0.8],[0.95,-1],[0.85,-1.1],[0.8,-1.6],[0.7,-2],[0.65,-2.4],[0.55,-2.7],[0.4,-3],[0.3,-3.4],[0.2,-4],[0.15,-4.5],[1.2,-1.95],[1.95,-2.25],[-0.5,-0.9],[-0.55,-1.5],[-0.7,-2.3],[-0.75,-3.3],[0.92,0.3],[-0.12,-4.9],[-0.05,-5],[0.02,-5.1],[0.08,-4.9],[-0.1,-5.2],[0,-5.3],[0.06,-5.35],[-0.08,-5.4],[0.04,-5.45],[0.1,-5.2]];
const d3Rim: P[] = [[-0.75,-4.2],[-0.72,-3.6],[-0.68,-3],[-0.65,-2.5],[-0.58,-2],[-0.52,-1.7],[-0.46,-1.3],[-0.38,-1.05],[-0.3,-0.8],[-0.22,-0.55],[-0.15,-0.35],[-0.05,-0.1],[0.05,0.15],[0.15,0.3],[0.25,0.5],[0.35,0.75],[0.45,1],[0.55,1.2],[0.75,1.15],[0.9,1.05],[1,0.7],[1.05,0.4],[1.08,0.1],[1.03,-0.2],[0.98,-0.45],[0.88,-0.75],[0.75,-0.95],[0.65,-1.25],[0.58,-1.5],[0.5,-1.8],[0.45,-2.1],[0.38,-2.4],[0.32,-2.8],[0.28,-3.2],[0.24,-3.7],[0.18,-4.2],[0.14,-4.7],[-0.7,-4.55],[-0.6,-4.8],[-0.45,-4.85],[-0.3,-4.85],[-0.15,-4.9]];
const d3Base: P[] = [[-0.2,-5.5],[0.1,-5.5]];
const d3Bright: P[] = [[-0.67,-4.12,-3.44],[-0.56,-4.4,-2.67],[-0.39,-4.5,-2.48],[-0.22,-4.55,-2.67],[-0.05,-4.31,-2.77],[0.1,-3.83,-3.25]];
const d3Bright2: P[] = [[0.38,-0.17,0.4],[0.49,-0.37,0.69],[0.64,-0.56,0.79],[0.78,-0.46,0.64],[0.89,-0.17,0.4]];
const d3Ridge: P[] = [[-0.44,-2.67,-1.9],[-0.27,-2.67,-1.71],[-0.1,-2.77,-1.81]];
const d3Contours: P[][] = [
  [[-0.67,-4.02],[-0.5,-4.64],[0.04,-4.74],[0.1,-4.02],[0.35,-1.9],[0.52,-1.23],[0.78,-0.75],[0.92,0.12],[0.86,0.69],[0.64,1.08],[0.47,1.03],[0.27,0.6],[-0.05,-0.08],[-0.39,-1.04],[-0.61,-2.38],[-0.7,-3.35],[-0.67,-4.02]],
  [[-0.44,-1.9],[-0.05,-1.04],[0.41,-0.65],[0.52,-0.75],[0.27,-1.62],[0.15,-2.29],[-0.22,-2.38],[-0.44,-1.9]],
  [[-0.22,-1.81],[0.07,-1.33],[0.27,-1.13],[0.07,-1.81],[-0.1,-2],[-0.22,-1.81]],
  [[-0.05,-0.6],[0.25,-0.25],[0.35,-0.7],[0.1,-1],[-0.05,-0.6]],
  [[-0.55,-2.2],[-0.3,-1.3],[0.1,-0.6],[0.35,-0.1],[0.5,0.7],[0.75,0.8],[0.85,0.1],[0.7,-0.6],[0.4,-1.1],[0.25,-2],[0.05,-3],[-0.3,-2.6],[-0.55,-2.2]],
];
const d4Core: P[] = [[-4.91,-6.04,-4.17],[-4.63,-5.83,-3.13],[-4.2,-5.47,-2.4],[-3.78,-5.42,-1.67],[-3.22,-5.2,-1.15],[-2.51,-4.9,-0.31],[-1.81,-4.6,0.31],[-1.1,-3.65,0.63],[-0.39,-2.1,0.94],[0.31,-1.46,1.15],[1.02,-0.63,1.2],[1.58,0.31,1.04]];
const d4Dots: P[] = [[0,2.29],[-0.08,2.08],[-0.75,1.15],[-2.16,0.52],[-1.45,0.81],[-1.24,0.81],[0.42,1.56],[0.87,1.93],[1.58,2.19],[1.65,2.08],[1.97,2.38],[2.14,2.19],[2.36,1.96],[2.78,2.22],[2.88,2.03],[3.27,2.14],[3.34,2.5],[3.55,2.6],[3.34,1.61],[2.31,0.65],[2.12,1.51],[2.07,1.77],[1.86,1.25],[1.72,0.83],[1.72,0.42],[1.58,-0.31],[1.3,-0.83],[1.09,-1.67],[0.17,-1.98],[-0.39,-3.02],[-1.17,-3.54],[-0.96,-4.17],[-1.66,-5.2],[-2.23,-5.47],[-2.72,-6.07],[-2.58,-6.07],[-3.92,-6.07],[-4.34,-6.07],[-4.56,-6.07],[-4.27,-1.35],[-4.56,-2.08],[-3.78,-0.73],[-3.57,-0.68],[-3.07,-0.83],[-2.65,-0.21],[-2.16,0.21],[-4.84,-2.92],[-4.9,-3.65],[-4.77,-4.17],[-4.84,-5.73]];
const d4Rim: P[] = [[-4.85,-4],[-4.7,-3.4],[-4.55,-2.9],[-4.4,-2.6],[-4.2,-2.2],[-4,-1.9],[-3.8,-1.5],[-3.6,-1.25],[-3.4,-1],[-3.1,-0.85],[-2.8,-0.5],[-2.5,-0.1],[-2.2,0.15],[-1.9,0.35],[-1.6,0.5],[-1.3,0.65],[-1,0.75],[-0.7,0.9],[-0.4,1],[0,1.12],[0.4,1.25],[0.8,1.3],[1.2,1.3],[1.5,1.15],[-4.85,-5.9],[-4.6,-5.9],[-4.3,-5.6],[-4,-5.5],[-3.7,-5.5],[-3.4,-5.3],[-3.1,-5.25],[-2.8,-5],[-2.5,-5],[-2.2,-4.95],[-1.9,-4.85],[-1.6,-4.7],[-1.4,-4.3],[-1.2,-3.9],[-1,-3.5],[-0.8,-2.9],[-0.6,-2.5],[-0.4,-2.2],[-0.2,-2],[0,-1.8],[0.3,-1.55],[0.6,-1.25],[0.9,-0.9],[1.2,-0.6],[1.4,-0.3],[1.6,0],[1.7,0.4],[1.6,0.8]];
const d4Col: P[] = [[-4.9,-4.2],[-4.9,-6]];
const d4Bright: P[] = [[-4.34,-5.2,-4.58],[-4.06,-5.36,-4.17],[-3.64,-5.42,-3.96],[-3.22,-5.05,-4.17],[-2.93,-4.84,-4.48]];
const d4Ridge: P[] = [[-3.22,-3.4,-1.76],[-2.51,-2.08,-0.83],[-1.81,-1.15,-0.21],[-1.1,-0.73,0.1]];
const d4Contours: P[][] = [
  [[-4.34,-4.9],[-3.92,-5.42],[-3.22,-5],[-2.65,-4.58],[-1.66,-4.48],[-1.1,-3.65],[-0.68,-1.98],[0.31,-1.15],[1.3,-0.21],[1.37,0.63],[0.87,1.04],[-0.11,1.04],[-1.1,0.63],[-1.95,0.1],[-2.93,-0.83],[-3.78,-2.08],[-4.27,-3.65],[-4.34,-4.9]],
  [[-3.22,-3.65],[-2.09,-4.17],[-1.52,-3.44],[-0.96,-1.77],[0.17,-0.73],[1.02,0.21],[1.02,0.73],[0.17,0.83],[-1.1,0.31],[-2.09,-0.42],[-2.93,-1.56],[-3.43,-2.81],[-3.22,-3.65]],
  [[-2.65,-2.81],[-2.23,-3.44],[-1.66,-2.6],[-1.24,-1.35],[-0.11,-0.42],[0.73,0.31],[0.59,0.63],[-0.39,0.52],[-1.52,-0.1],[-2.37,-1.15],[-2.72,-2.08],[-2.65,-2.81]],
  [[-1.95,-1.46],[-1.38,-0.83],[-0.54,-0.21],[0.17,0.21],[-0.11,0.31],[-1.1,-0.21],[-1.81,-0.83],[-1.95,-1.46]],
  [[-3.7,-3.9],[-3,-2.4],[-1.9,-1],[-0.6,0.1],[-1.8,-0.3],[-2.9,-1.5],[-3.6,-3],[-3.7,-3.9]],
];

// ---------- panel e ----------
const corrColumns = ['ChIP','scChIC','ChIP','scChIC','ChIP','scChIC','ChIP','scChIC'];
const corr1 = [1,0.88,-0.56,-0.71,-0.47,-0.45,-0.57,-0.64];
const corr2 = [0.88,1,-0.53,-0.61,-0.44,-0.39,-0.63,-0.66];
const corr3 = [-0.56,-0.53,1,0.83,0.81,0.79,0.5,0.32];
const corr4 = [-0.71,-0.61,0.83,1,0.68,0.76,0.46,0.46];
const corr5 = [-0.47,-0.44,0.81,0.68,1,0.89,0.38,0.23];
const corr6 = [-0.45,-0.39,0.79,0.76,0.89,1,0.2,0.11];
const corr7 = [-0.57,-0.63,0.5,0.46,0.38,0.2,1,0.91];
const corr8 = [-0.64,-0.66,0.32,0.46,0.23,0.11,0.91,1];
const corrRows = [corr1,corr2,corr3,corr4,corr5,corr6,corr7,corr8];
const palette = ['#2b3f94','#2d459c','#4859a6','#5f69b0','#767dbb','#8e92c7','#a8abd4','#bcc0df','#d8dbec','#ffffff','#f9dfe2','#f3cbce','#efb7ba','#eca4a6','#e88f90','#e67c7d','#e16a6c','#dd5a5c','#d9484c','#cf2e33'];

// ---------- panel f ----------
const track1 = [46,30,44,28,44,36,46,44,47,44,46,45,43,36,40,34,55,30,34,40,62,36,42,26,32,35,29,36,33,42,32,48,44,47,46,40,38,62,34,40,30,38,31,36,30,33,28,34,32,32,30,36,29,38,32,48,38,73,40,34,26,22,30,27,34,26,33,20,35,28,46,36,48,92,50,38,40,45,46,52,70,60,82,52,72,70,74,70,73,68,72,66,74,70,64,52,55,60,93,70,85,50,46,50,97,48,44,58,62,48,68,52,56,78,40,45,70,68,66,70,66,68,65,68,66,70,66,64,70,50,52,80,48,88,52,50,60,46,88,50,74,73,71,72,70,72,40,60,82,55];
const track1Spikes: P[] = [[3.4,52],[5.5,50],[10.4,50],[15.3,45],[19.4,56],[21.5,52],[24.5,44],[28.5,46],[30.5,52],[33.5,54],[35.4,48],[38.5,50],[41.5,44],[43.5,46],[47.5,42],[50.4,40],[52.5,46],[54.4,58],[59.5,44],[62.4,38],[64.5,42],[68.5,40],[71.5,50],[72.6,56],[75.5,60],[76.5,56],[78.4,72],[80.5,78],[81.4,74],[83.5,80],[85.5,78],[87.5,82],[90.5,76],[93.5,78],[94.5,70],[96.4,66],[97.5,76],[99.4,90],[101.4,68],[102.5,62],[103.5,72],[106.5,70],[108.5,78],[110.5,80],[111.5,74],[112.5,84],[115.5,65],[117.5,72],[120.5,74],[123.5,76],[126.5,74],[129.4,62],[130.4,78],[131.5,74],[134.5,70],[135.5,80],[137.5,72],[139.4,70],[144.5,76],[146.5,66],[147.5,72],[148.6,75]];
const track1Dips: P[] = [[17.5,18],[48.5,8],[56.5,15],[68.5,18],[95.5,30],[115.5,28]];
const track2 = [52,46,50,42,38,28,24,22,20,22,20,24,40,32,36,50,34,16,26,30,36,30,42,28,34,45,30,36,30,40,44,28,22,24,22,26,34,30,42,34,36,40,32,46,34,48,36,40,36,36,32,38,50,40,48,44,60,38,50,38,34,42,30,46,36,28,44,30,36,28,34,24,40,55,48,78,54,62,50,70,58,85,56,72,60,75,60,48,38,36,34,30,36,32,50,75,52,60,90,66,56,50,50,52,60,55,70,52,80,62,68,50,60,42,36,72,34,30,36,33,38,30,34,32,36,30,36,28,34,40,36,78,50,56,60,62,78,64,85,60,72,46,36,34,36,32,38,70,54,60];
const track2Spikes: P[] = [[0.5,58],[2.4,52],[10.5,26],[12.5,44],[14.5,52],[15.4,58],[16.5,46],[19.4,34],[21.5,38],[23.5,44],[25.5,50],[27.5,42],[29.5,46],[30.5,52],[38.5,46],[41.5,44],[43.5,52],[45.5,54],[47.5,46],[49.5,42],[52.5,54],[54.5,52],[55.5,50],[56.5,62],[58.5,54],[60.5,44],[61.5,46],[63.5,50],[66.5,48],[69.5,36],[72.5,46],[73.5,62],[74.5,72],[75.5,82],[76.5,66],[77.5,72],[79.5,84],[80.5,70],[81.4,88],[82.5,74],[83.5,78],[85.5,72],[86.5,58],[91.5,38],[94.5,56],[95.5,78],[96.5,60],[98.6,92],[99.5,74],[100.5,62],[103.5,58],[105.5,64],[106.5,72],[108.4,82],[109.5,70],[110.5,72],[112.5,66],[113.5,52],[115.5,75],[118.5,42],[120.5,44],[123.5,40],[125.5,38],[129.5,50],[131.4,80],[133.5,62],[135.5,68],[136.5,80],[137.5,70],[138.4,88],[139.5,74],[140.5,76],[142.5,42],[146.5,44],[147.4,74],[148.5,62]];
const track2Dips: P[] = [[48.5,0],[57.5,10],[97.5,0],[102.5,0],[128.5,0]];
const track3 = [35,42,30,44,38,72,75,88,72,76,78,74,40,34,62,68,38,28,34,24,28,70,78,70,86,40,30,30,38,30,44,74,76,86,78,72,38,34,46,30,40,36,28,44,34,30,50,28,36,54,32,26,40,30,36,28,44,82,32,28,26,36,30,34,40,28,38,26,34,30,40,77,28,24,30,22,26,20,18,28,26,36,50,42,76,78,75,77,62,74,76,72,78,70,34,28,36,24,30,42,46,40,48,44,78,42,28,24,30,20,22,26,90,30,40,60,77,80,74,70,78,72,86,70,74,84,70,72,40,74,30,34,26,30,24,32,26,30,76,80,78,82,76,80,78,58,30,44,36,26];
const track3Spikes: P[] = [[1.5,46],[3.5,50],[5.5,78],[7.4,92],[8.6,80],[10.5,80],[14.6,72],[16.5,44],[19.5,32],[21.4,80],[22.5,84],[24.3,90],[25.5,48],[28.5,44],[30.5,50],[31.5,78],[33.4,90],[34.5,80],[37.5,44],[38.5,52],[40.5,46],[42.5,42],[43.5,52],[46.4,60],[48.5,44],[49.4,62],[50.5,40],[52.5,46],[55.5,38],[56.5,50],[57.3,88],[58.5,40],[60.5,34],[63.5,42],[65.5,36],[67.5,36],[69.5,38],[71.4,80],[73.5,32],[75.5,28],[79.5,34],[81.5,42],[82.5,54],[83.5,52],[85.5,82],[87.5,80],[90.5,80],[92.5,82],[94.5,42],[96.5,44],[98.5,38],[100.5,52],[102.5,54],[104.3,82],[105.5,48],[107.5,34],[110.5,32],[112.3,94],[114.5,52],[116.5,86],[118.5,82],[120.5,78],[122.5,84],[124.4,90],[126.5,78],[127.4,90],[129.4,78],[131.5,40],[133.5,36],[135.5,38],[137.5,36],[138.5,80],[140.5,86],[142.5,84],[144.5,80],[146.5,40],[147.5,54],[148.5,46]];
const track3Dips: P[] = [[27.5,14],[62.5,14],[113.5,16],[56.2,20],[78.5,14]];
const track4 = [10,16,8,14,20,52,53,54,55,57,54,50,10,8,45,14,6,5,8,5,5,55,10,46,48,7,5,10,7,14,30,52,55,56,54,48,10,8,14,10,24,8,10,35,10,6,8,5,4,6,12,8,6,10,5,10,28,8,14,6,5,8,5,6,4,8,10,6,12,16,15,52,14,25,10,5,3,8,14,18,15,22,20,77,75,78,76,30,72,74,76,74,6,5,45,6,8,10,3,25,35,20,32,28,38,45,34,28,14,20,12,24,70,5,65,30,95,77,80,74,72,78,76,75,78,85,74,72,5,77,6,10,8,30,8,14,25,10,77,78,79,77,76,78,74,8,38,10,38,20];
const track4Spikes: P[] = [[1.5,20],[3.5,18],[4.5,24],[5.5,54],[7.5,58],[9.4,60],[14.4,50],[21.4,58],[23.4,50],[24.4,50],[27.5,14],[29.4,22],[31.4,58],[33.4,60],[34.4,58],[40.4,28],[38.5,20],[43.4,40],[45.5,12],[50.5,16],[53.5,14],[55.5,24],[56.4,32],[58.5,18],[62.5,10],[66.5,14],[68.5,16],[69.5,20],[71.4,56],[73.4,30],[75.5,8],[78.5,18],[80.5,24],[82.5,28],[83.5,82],[85.5,80],[88.5,76],[90.4,82],[94.4,48],[99.5,30],[100.5,40],[102.5,38],[104.5,42],[105.4,50],[106.5,36],[109.5,24],[111.5,28],[112.4,74],[114.4,68],[116.2,98],[117.5,82],[120.5,78],[122.5,82],[125.3,90],[126.5,78],[129.3,80],[133.4,34],[136.4,28],[138.5,84],[140.5,82],[142.5,84],[143.5,80],[146.4,42],[148.4,42],[148.9,24]];
const rulerTicks = [110,115,120,125,130,135,140,145,150,155,160,165,170,175,180];

const TEAL = '#1fbdc0', SALMON = '#f8766d', GREY = '#7f8b88', CONTOUR = '#b0585f', RED = '#e8283c', NAVY = '#2d3c96', CYAN = '#33bdf2', TRACK_BG = '#fafdff';

const pts = (a: P[]) => a.map(([x, y]) => ({ x, y }));
const rng = (a: P[]) => a.map(([x, lo, hi]) => ({ x, r: [lo, hi] }));
const dot = (r: number, fill: string, op = 1) => (p: any) => <circle cx={p.cx} cy={p.cy} r={r} fill={fill} fillOpacity={op} />;
const nil = () => <g />;
const steps = (a: number, b: number, s: number) => { const o: number[] = []; for (let v = a; v <= b + 1e-9; v += s) o.push(+v.toFixed(3)); return o; };

const cloud = (k: string, d: P[], fill: string, op = 1, type: any = 'monotone') => (
  <Area key={k} data={rng(d)} dataKey="r" type={type} fill={fill} fillOpacity={op} stroke="none" dot={false} activeDot={false} isAnimationActive={false} />
);
const dots = (k: string, d: P[], r: number, fill: string, op = 1) => (
  <Scatter key={k} data={pts(d)} dataKey="y" shape={dot(r, fill, op)} isAnimationActive={false} />
);
const path = (k: string, d: P[], stroke: string, w: number) => (
  <Scatter key={k} data={pts(d)} dataKey="y" shape={nil} line={{ stroke, strokeWidth: w, fill: 'none' }} isAnimationActive={false} />
);

const xTick = (o: any) => (p: any) => {
  const v = p.payload.value;
  const lab = o.labels[v];
  const len = o.len ? o.len(v) : 6;
  return (
    <g>
      {len > 0 && <line x1={p.x} y1={p.y} x2={p.x} y2={p.y + len} stroke={o.tick || '#111'} strokeWidth={o.sw ? o.sw(v) : 2} />}
      {lab !== undefined && <text x={p.x + (o.dx || 0)} y={p.y + o.dy} textAnchor="middle" dominantBaseline="central" fontFamily={FONT} fontSize={o.size} fill={o.fill}>{lab}</text>}
    </g>
  );
};
const yTick = (o: any) => (p: any) => {
  const v = p.payload.value;
  const lab = o.labels[v];
  const len = o.len ? o.len(v) : 6;
  const dy = o.dyf ? o.dyf(v) : (o.dy || 0);
  return (
    <g>
      {len > 0 && <line x1={p.x} y1={p.y} x2={p.x - len} y2={p.y} stroke={o.tick || '#111'} strokeWidth={o.sw ? o.sw(v) : 2} />}
      {lab !== undefined && <text x={p.x - o.gap} y={p.y + dy} textAnchor="end" dominantBaseline="central" fontFamily={FONT} fontSize={o.size} fill={o.fill}>{lab}</text>}
    </g>
  );
};

function Panel({ l, t, w, h, xd, yd, xt, yt, xTickFn, yTickFn, frame, children, bg }: any) {
  return (
    <div style={{ position: 'absolute', left: l - 70, top: t - 14 }}>
      <ComposedChart width={w + 80} height={h + 64} margin={{ top: 14, right: 10, bottom: 0, left: 0 }}>
        {bg}
        <XAxis type="number" dataKey="x" domain={xd} ticks={xt} height={50} interval={0} axisLine={false} tickLine={false} tickSize={0} tickMargin={0} tick={xTickFn} />
        <YAxis type="number" domain={yd} ticks={yt} width={70} interval={0} axisLine={false} tickLine={false} tickSize={0} tickMargin={0} tick={yTickFn} />
        {children}
        <ReferenceArea x1={xd[0]} x2={xd[1]} y1={yd[0]} y2={yd[1]} fill="none" fillOpacity={0} stroke={frame.c} strokeWidth={frame.w} ifOverflow="visible" />
      </ComposedChart>
    </div>
  );
}

const flowX = (labels: any, heavy: number[], dy: number) => xTick({ labels, dy, size: 12, fill: '#222', tick: '#111', len: (v: number) => (heavy.includes(v) ? 7 : 4), sw: (v: number) => (heavy.includes(v) ? 3.5 : 1.8) });
const flowY = (labels: any, heavy: number[]) => yTick({ labels, gap: 16, dy: -1, size: 12, fill: '#222', tick: '#111', len: (v: number) => (heavy.includes(v) ? 9 : 4), sw: (v: number) => (heavy.includes(v) ? 3 : 1.5) });

function PanelA() {
  return (
    <>
      <Panel l={77} t={43} w={310} h={309} xd={[-0.2, 66.2]} yd={[0, 40]} xt={steps(0, 65, 5)} yt={steps(0, 40, 2.5)}
        xTickFn={flowX({ 0: '0', 20: '20K', 40: '40K', 60: '60 K' }, [0, 20, 40, 55], 20)} yTickFn={flowY({ 0: '0', 10: '10K', 20: '20K', 30: '30K', 40: '40K' }, [0, 10, 20, 30, 40])} frame={{ c: '#777', w: 1.5 }}>
        {dots('d', a1Dots, 0.9, '#111')}
        {dots('dn', a1Dense, 0.9, '#111')}
        {cloud('k', a1Black, '#111', 0.72)}
        {dots('bd', a1BlueDots, 1.1, CYAN)}
        {cloud('h', a1Halo, '#6fd0f3', 0.72)}
        {cloud('c', a1Core, CYAN)}
        {path('g', gateA1, '#000', 4)}
      </Panel>
      <Panel l={77} t={430} w={310} h={308} xd={[-0.13, 40.1]} yd={[0, 65.5]} xt={steps(0, 40, 2.5)} yt={steps(0, 60, 5)}
        xTickFn={flowX({ 0: '0', 10: '10K', 20: '20K', 30: '30K', 40: '40K' }, [0, 10, 20, 30, 40], 19)} yTickFn={flowY({ 0: '0', 20: '20K', 40: '40K', 60: '60K' }, [0, 20, 40, 60])} frame={{ c: '#777', w: 1.5 }}>
        {dots('d', a2Dots, 0.9, '#111')}
        {cloud('k', a2Black, '#111', 0.85, 'linear')}
        {cloud('b', a2Blue, CYAN, 1, 'linear')}
        {path('g', gateA2, '#000', 3.5)}
      </Panel>
      <Panel l={76} t={861} w={311} h={309} xd={[-0.16, 50.3]} yd={[0, 616]} xt={steps(0, 50, 2.5)} yt={steps(0, 600, 50)}
        xTickFn={flowX({ 0: '0', 10: '10K', 20: '20K', 30: '30K', 40: '40K', 50: '50K' }, [0, 10, 20, 30, 40, 50], 18)} yTickFn={flowY({ 0: '0', 200: '200', 400: '400', 600: '600' }, [0, 200, 400, 600])} frame={{ c: '#777', w: 1.5 }}>
        <Area data={pts(histBlack)} dataKey="y" type="linear" fill="#060606" fillOpacity={1} stroke="none" dot={false} activeDot={false} isAnimationActive={false} />
        <Area data={pts(histBlue)} dataKey="y" type="linear" fill={CYAN} fillOpacity={1} stroke="none" dot={false} activeDot={false} isAnimationActive={false} />
        <ReferenceLine y={0} stroke={CYAN} strokeWidth={2} ifOverflow="visible" />
        <ReferenceLine segment={[{ x: 16.2, y: 160 }, { x: 20.6, y: 160 }]} stroke="#000" strokeWidth={3} />
        <ReferenceLine segment={[{ x: 16.2, y: 142 }, { x: 16.2, y: 176 }]} stroke="#000" strokeWidth={4} />
        <ReferenceLine segment={[{ x: 20.6, y: 142 }, { x: 20.6, y: 176 }]} stroke="#000" strokeWidth={4} />
      </Panel>
    </>
  );
}

const logLabel = () => (p: any) => {
  const v = p.payload.value;
  return (
    <g>
      <line x1={p.x} y1={p.y} x2={p.x} y2={p.y + 4} stroke="#222" strokeWidth={2.5} />
      {v === 1 && <text x={p.x + 1} y={p.y + 26} textAnchor="middle" dominantBaseline="central" fontFamily={FONT} fontSize={21} fill="#555">10</text>}
      {(v === 3 || v === 5) && <g fontFamily={FONT} fontSize={21} fill="#555" dominantBaseline="central" textAnchor="middle">
        <text x={p.x - 4} y={p.y + 26}>10</text>
        <text x={p.x + 23} y={p.y + 18}>{v}</text>
      </g>}
    </g>
  );
};

const bPanels = [
  { l: 553, w: 301, xd: [0.68, 5.78], v: 3.47, ex: b1Ex, sel: b1Sel, selCore: b1SelCore, exCores: [] as P[][], labels: true },
  { l: 920, w: 301, xd: [0.08, 5.3], v: 3.48, ex: b2Ex, sel: b2Sel, selCore: b2SelCore, exCores: [b2ExCore, b2ExCore2], labels: false },
  { l: 1285, w: 302, xd: [0.69, 5.62], v: 3.48, ex: b3Ex, sel: b3Sel, selCore: b3SelCore, exCores: [b3ExCore, b3ExCore2], labels: false },
  { l: 1652, w: 301, xd: [0.38, 5.55], v: 3.47, ex: b4Ex, sel: b4Sel, selCore: b4SelCore, exCores: [] as P[][], labels: false },
];
function PanelB() {
  return <>{bPanels.map((b, i) => (
    <Panel key={i} l={b.l} t={43} w={b.w} h={301} xd={b.xd} yd={[-0.047, 1.047]} xt={[1, 2, 3, 4, 5]} yt={[0, 0.5, 1]} xTickFn={logLabel()}
      yTickFn={yTick({ labels: b.labels ? { 0: '0.00', 0.5: '0.50', 1: '1.00' } : {}, gap: 12, dyf: (v: number) => (v === 1 ? 5 : v === 0 ? -6 : 0), size: 21, fill: '#555', tick: '#222', len: () => 3, sw: () => 3 })} frame={{ c: '#333', w: 2.4 }}>
      {b.exCores.map((c, j) => cloud('ec' + j, c, SALMON, 0.55))}
      {dots('e', b.ex, 4.4, SALMON, 0.28)}
      {cloud('sc', b.selCore, TEAL, 1)}
      {dots('s', b.sel, 4.4, TEAL, 0.3)}
      <ReferenceLine x={b.v} stroke="#666" strokeWidth={2} strokeDasharray="9 7" />
      <ReferenceLine y={0.5} stroke="#666" strokeWidth={2} strokeDasharray="9 7" />
    </Panel>
  ))}</>;
}

const cPanels = [
  { l: 552, w: 303, xd: [-0.043, 1.05], ex: c1Ex, sel: c1Sel },
  { l: 917.5, w: 303.5, xd: [-0.045, 1.047], ex: c2Ex, sel: c2Sel },
  { l: 1284, w: 304, xd: [-0.045, 1.05], ex: c3Ex, sel: c3Sel },
  { l: 1650, w: 304, xd: [-0.047, 1.047], ex: c4Ex, sel: c4Sel },
];
function PanelC() {
  return <>{cPanels.map((c, i) => (
    <Panel key={i} l={c.l} t={429} w={c.w} h={304} xd={c.xd} yd={[-0.0466, 1.043]} xt={[0, 0.5, 1]} yt={[]}
      xTickFn={xTick({ labels: { 0: '0', 0.5: '0.5', 1: '1' }, dy: 23, dx: 3, size: 21, fill: '#555', tick: '#333', len: () => 10, sw: () => 2.6 })} yTickFn={() => <g />} frame={{ c: '#555', w: 2 }}>
      <Area data={pts(c.ex)} dataKey="y" type="monotone" fill={SALMON} fillOpacity={1} stroke="#000" strokeWidth={3.4} dot={false} activeDot={false} isAnimationActive={false} />
      <Area data={pts(c.sel)} dataKey="y" type="monotone" fill={TEAL} fillOpacity={1} stroke="#000" strokeWidth={3.4} dot={false} activeDot={false} isAnimationActive={false} />
    </Panel>
  ))}</>;
}

const dPanels = [
  { l: 550.5, t: 861, w: 304.5, h: 303, xd: [-5.27, 4.13], yd: [-6.88, 2.56], xt: [-5, -2.5, 0, 2.5], yt: [-5, -2.5, 0, 2.5], xMin: [-3.75, -1.25, 1.25, 3.75], yMin: [-6.25, -3.75, -1.25, 1.25],
    xl: { '-5': '−5.0', '-2.5': '−2.5', 0: '0.0', 2.5: '2.5' }, yl: { '-5': '−5.0', '-2.5': '−2.5', 0: '0.0', 2.5: '2.5' }, gap: 16, core: d1Core, dt: [...d1Dots, ...d1Rim], extra: [d1Col], bright: [d1Bright], ridge: [d1Ridge], cont: d1Contours },
  { l: 920, t: 861, w: 305, h: 304, xd: [-4.91, 4], yd: [-4.83, 4.73], xt: [-4, -2, 0, 2, 4], yt: [-2.5, 0, 2.5], xMin: [-3, -1, 1, 3], yMin: [-3.75, -1.25, 1.25, 3.75],
    xl: { '-4': '−4', '-2': '−2', 0: '0', 2: '2', 4: '4' }, yl: { '-2.5': '−2.5', 0: '0.0', 2.5: '2.5' }, gap: 12, core: d2Core, dt: [...d2Dots, ...d2Rim], extra: [d2ColA], bright: [d2Bright], ridge: [d2Ridge], cont: d2Contours },
  { l: 1282, t: 861, w: 304, h: 303, xd: [-1.65, 2.1], yd: [-5.87, 2.89], xt: [-1, 0, 1, 2], yt: [-4, -2, 0, 2], xMin: [-0.5, 0.5, 1.5], yMin: [-5, -3, -1, 1],
    xl: { '-1': '−1', 0: '0', 1: '1', 2: '2' }, yl: { '-4': '−4', '-2': '−2', 0: '0', 2: '2' }, gap: 11, core: d3Core, dt: [...d3Dots, ...d3Rim], extra: [d3Base], bright: [d3Bright, d3Bright2], ridge: [d3Ridge], cont: d3Contours },
  { l: 1649, t: 863, w: 307, h: 305, xd: [-5.38, 4.03], yd: [-6.5, 3], xt: [-4, -2, 0, 2, 4], yt: [-5, -2.5, 0, 2.5], xMin: [-3, -1, 1, 3], yMin: [-6.25, -3.75, -1.25, 1.25],
    xl: { '-4': '−4', '-2': '−2', 0: '0', 2: '2', 4: '4' }, yl: { '-5': '−5.0', '-2.5': '−2.5', 0: '0.0', 2.5: '2.5' }, gap: 8, core: d4Core, dt: [...d4Dots, ...d4Rim], extra: [d4Col], bright: [d4Bright], ridge: [d4Ridge], cont: d4Contours },
];
function PanelD() {
  return <>{dPanels.map((d, i) => (
    <Panel key={i} l={d.l} t={d.t} w={d.w} h={d.h} xd={d.xd} yd={d.yd} xt={d.xt} yt={d.yt}
      bg={[
        <CartesianGrid key="g2" verticalValues={d.xMin} horizontalValues={d.yMin} stroke="#f5f5f5" strokeWidth={1} />,
        <CartesianGrid key="g1" verticalValues={d.xt} horizontalValues={d.yt} stroke="#e9e9e9" strokeWidth={1.4} />,
      ]}
      xTickFn={xTick({ labels: d.xl, dy: 23, dx: -3, size: 21, fill: '#444', tick: '#999', len: () => 3, sw: () => 1 })}
      yTickFn={yTick({ labels: d.yl, gap: d.gap, dy: 3, size: 21, fill: '#444', tick: '#999', len: () => 3, sw: () => 1 })} frame={{ c: '#999', w: 1.2 }}>
      {cloud('core', d.core, GREY)}
      {dots('dt', d.dt, 1.7, GREY)}
      {d.extra.map((e, j) => path('x' + j, e, GREY, 2.4))}
      {d.ridge.map((r, j) => cloud('r' + j, r, RED, 0.42))}
      {d.cont.map((c, j) => path('c' + j, c, CONTOUR, 1.8))}
      {d.bright.map((b, j) => cloud('b' + j, b, RED, 0.95))}
    </Panel>
  ))}</>;
}

const heatData = corrRows.flatMap((row, r) => row.map((v, c) => ({ x: c + 0.5, y: r + 0.5, v })));
const heatColor = (v: number) => palette[Math.min(19, Math.floor(((v + 1) / 2) * 20))];
const HeatCell = (p: any) => (
  <g>
    <rect x={p.cx - 42.5} y={p.cy - 42.5} width={85.5} height={85.5} fill={heatColor(p.payload.v)} />
    <text x={p.cx} y={p.cy} textAnchor="middle" dominantBaseline="central" fontFamily={FONT} fontSize={21} fill="#1c1c1c">{String(p.payload.v).replace('-', '−')}</text>
  </g>
);
function PanelE() {
  return (
    <>
      <div style={{ position: 'absolute', left: 76, top: 1385 }}>
        <ComposedChart width={680} height={680} margin={{ top: 0, right: 0, bottom: 0, left: 0 }}>
          <XAxis hide type="number" dataKey="x" domain={[0, 8]} />
          <YAxis hide type="number" domain={[0, 8]} reversed />
          <Scatter data={heatData} dataKey="y" shape={HeatCell} isAnimationActive={false} />
        </ComposedChart>
      </div>
      <div style={{ position: 'absolute', left: 73, top: 2077 }}>
        <BarChart width={679} height={18} data={palette.map((c, i) => ({ i, v: 1 }))} margin={{ top: 0, right: 0, bottom: 0, left: 0 }} barCategoryGap={0}>
          <XAxis hide dataKey="i" />
          <YAxis hide domain={[0, 1]} />
          <Bar dataKey="v" isAnimationActive={false}>
            {palette.map((c, i) => <Cell key={i} fill={c} />)}
          </Bar>
        </BarChart>
      </div>
    </>
  );
}

const tracks = [
  { t: 1376, b: 1506, v: track1, sp: track1Spikes, dp: track1Dips },
  { t: 1518, b: 1652, v: track2, sp: track2Spikes, dp: track2Dips },
  { t: 1664, b: 1798, v: track3, sp: track3Spikes, dp: track3Dips },
  { t: 1808, b: 1944, v: track4, sp: track4Spikes, dp: [] as P[] },
];
function PanelF() {
  return (
    <>
      {tracks.map((tr, i) => {
        const H = tr.b - tr.t;
        const spike = (p: any) => <line x1={p.cx} y1={p.cy} x2={p.cx} y2={H} stroke={NAVY} strokeWidth={1.4} />;
        const dip = (p: any) => <line x1={p.cx} y1={p.cy} x2={p.cx} y2={0} stroke={TRACK_BG} strokeWidth={1.6} />;
        return (
          <div key={i} style={{ position: 'absolute', left: 1221, top: tr.t, width: 892, height: H, background: TRACK_BG }}>
            <ComposedChart width={892} height={H} margin={{ top: 0, right: 0, bottom: 0, left: 0 }}>
              <XAxis hide type="number" dataKey="x" domain={[0, tr.v.length - 1]} />
              <YAxis hide type="number" domain={[-1.5, 100]} />
              <Area data={tr.v.map((y, x) => ({ x, y }))} dataKey="y" type="stepAfter" fill={NAVY} fillOpacity={1} stroke={NAVY} strokeWidth={0.6} dot={false} activeDot={false} isAnimationActive={false} />
              <Scatter data={pts(tr.dp)} dataKey="y" shape={dip} isAnimationActive={false} />
              <Scatter data={pts(tr.sp)} dataKey="y" shape={spike} isAnimationActive={false} />
            </ComposedChart>
          </div>
        );
      })}
      <div style={{ position: 'absolute', left: 1221, top: 1958, width: 892, height: 32, background: TRACK_BG }}>
        <ComposedChart width={892} height={32} data={[{ x: 105.1, y: 0 }, { x: 184.2, y: 0 }]} margin={{ top: 0, right: 0, bottom: 0, left: 0 }}>
          <XAxis hide type="number" dataKey="x" domain={[105.1, 184.2]} />
          <YAxis hide type="number" domain={[0, 1]} />
          <Line dataKey="y" stroke="none" dot={false} activeDot={false} isAnimationActive={false} />
          {rulerTicks.map((m) => <ReferenceLine key={m} segment={[{ x: m, y: 0.9 }, { x: m, y: 0.22 }]} stroke="#777" strokeWidth={1.2} />)}
          <ReferenceLine y={0.84} stroke="#ccc" strokeWidth={3} />
          <ReferenceLine y={0.92} stroke="#111" strokeWidth={3} />
        </ComposedChart>
      </div>
    </>
  );
}

const T = ({ x, y, s, size = 24, a = 'middle', rot, fill = '#1a1a1a', w }: any) => (
  <text x={x} y={y} fontSize={size} textAnchor={a} dominantBaseline="central" fontFamily={FONT} fill={fill} fontWeight={w} transform={rot ? `rotate(${rot} ${x} ${y})` : undefined}>{s}</text>
);
const Sub2 = () => <tspan dy="6" fontSize="0.65em">2</tspan>;
const L = ({ a, b }: any) => <line x1={a[0]} y1={a[1]} x2={b[0]} y2={b[1]} stroke="#000" strokeWidth={2.4} />;

function Overlay() {
  const titles = ['H3K4me1', 'H3K4me3', 'H3K9me3', 'H3K27me3'];
  const bx = [708, 1068, 1428, 1785];
  const dx = [687, 1062, 1428, 1785];
  const heads = [['H3K9me3', 154, 82, 238], ['H3K4me1', 334, 259, 416], ['H3K4me3', 500, 425, 582], ['H3K27me3', 672, 598, 754]];
  const colX = [114, 197.5, 301, 384, 463, 546, 634, 718];
  const rowY = [1426, 1507, 1597.5, 1678, 1766, 1846, 1937, 2017];
  const sideLines = [[1393, 1549, 'H3K9me3', 1473], [1562, 1718, 'H3K4me1', 1641], [1731, 1887, 'H3K4me3', 1810], [1904, 2060, 'H3K27me3', 1982.5]];
  return (
    <svg width={2136} height={2129} style={{ position: 'absolute', left: 0, top: 0, pointerEvents: 'none' }}>
      {[['a', 12, 18], ['b', 420, 16], ['c', 420, 436], ['d', 420, 801], ['e', 11, 1324], ['f', 964, 1321]].map((l: any) => <T key={l[0]} s={l[0]} x={l[1]} y={l[2]} size={25} w="bold" a="start" fill="#000" />)}
      <T x={245} y={401} s="FSC" size={25} /><T x={18} y={185} s="SSC" size={25} rot={-90} />
      <T x={233} y={788} s="trigger pulse" size={25} /><T x={21} y={600} s="FSC" size={24} rot={-90} />
      <T x={240} y={1215} s="Hoechst" size={24} /><T x={20} y={1029} s="counts" size={24} rot={-90} />
      {titles.map((t, i) => <T key={t} x={bx[i]} y={21} s={t} size={28} />)}
      <T x={442} y={203} s="Fraction of cuts" size={24} rot={-90} /><T x={472} y={203} s="starting with TA" size={24} rot={-90} />
      <T x={1264} y={395} s="Number of Cuts per Cell" size={24} />
      <T x={472} y={578} s="density" size={23} rot={-90} />
      <T x={1245} y={792} s="Fraction of Cuts in Peaks" size={24} />
      <circle cx={1996} cy={66} r={13.5} fill="#b9e8e9" /><T x={2020} y={68} s="selected" size={28} a="start" />
      <circle cx={1996} cy={132} r={13.5} fill="#fbd0ce" /><T x={2020} y={134} s="excluded" size={28} a="start" />
      <circle cx={1997} cy={447} r={13.5} fill="#5dd0d3" /><T x={2020} y={450} s="selected" size={28} a="start" />
      <circle cx={1997} cy={512} r={13.5} fill="#f8a8a2" /><T x={2020} y={515} s="excluded" size={28} a="start" />
      {titles.map((t, i) => <T key={t} x={dx[i]} y={839} s={t} size={28} />)}
      <text x={467} y={1018} fontSize={24.5} textAnchor="middle" dominantBaseline="central" fontFamily={FONT} fill="#1a1a1a" transform="rotate(-90 467 1018)">scChIC log<Sub2 /><tspan dy="-6">(cuts)</tspan></text>
      <T x={688} y={1212} s="ChIP" size={25} /><text x={688} y={1243} fontSize={24} textAnchor="middle" dominantBaseline="central" fontFamily={FONT} fill="#1a1a1a">log<Sub2 /><tspan dy="-6">(counts)</tspan></text>
      <T x={1077} y={1215} s="ChIP" size={25} /><text x={1077} y={1247} fontSize={24} textAnchor="middle" dominantBaseline="central" fontFamily={FONT} fill="#1a1a1a">log<Sub2 /><tspan dy="-6">(counts)</tspan></text>
      <T x={1438} y={1217} s="ChIP" size={25} /><text x={1439} y={1248} fontSize={24} textAnchor="middle" dominantBaseline="central" fontFamily={FONT} fill="#1a1a1a">log<Sub2 /><tspan dy="-6">(counts over input)</tspan></text>
      <T x={1814} y={1213} s="ChIP" size={25} /><text x={1814} y={1243} fontSize={24} textAnchor="middle" dominantBaseline="central" fontFamily={FONT} fill="#1a1a1a">log<Sub2 /><tspan dy="-6">(counts)</tspan></text>
      {heads.map((h: any) => <g key={h[0]}><T x={h[1]} y={1329} s={h[0]} size={28} /><L a={[h[2], 1346]} b={[h[3], 1346]} /></g>)}
      {corrColumns.map((c, i) => <T key={i} x={colX[i]} y={1367.5} s={c} size={24} />)}
      {rowY.map((y, i) => <T key={i} x={772} y={y} s={corrColumns[i]} size={24} rot={-90} />)}
      {sideLines.map((d: any) => <g key={d[2]}><L a={[794, d[0]]} b={[794, d[1]]} /><T x={819} y={d[3]} s={d[2]} size={28} rot={-90} /></g>)}
      <T x={85} y={2113} s="-1" size={26} /><T x={420} y={2116} s="Pearson Correlation" size={26} /><T x={743} y={2113} s="1" size={26} />
      <T x={1218} y={1408} s="[0-1455]" size={23} a="start" /><T x={1218} y={1529} s="[0-820]" size={23} a="start" />
      <T x={1218} y={1672} s="[-0,903-0,96]" size={23} a="start" /><T x={1218} y={1820} s="[0-2868]" size={23} a="start" />
      <T x={1001} y={1465} s="H3K9me3" size={27} a="start" /><T x={1001} y={1609} s="Input" size={27} a="start" />
      <T x={1001} y={1740} s="H3K9me3/Input" size={27} a="start" /><T x={1097} y={1776} s="(log2)" size={27} />
      <T x={1001} y={1902} s="H3K9me3" size={27} a="start" />
      <line x1={988} y1={1399} x2={988} y2={1793} stroke="#000" strokeWidth={4} /><line x1={988} y1={1823} x2={988} y2={1937} stroke="#000" strokeWidth={4} />
      <T x={956} y={1580} s="ChIP" size={28} rot={-90} /><T x={956} y={1904} s="scChIC" size={28} rot={-90} />
      <T x={1404.5} y={2014} s="120 mb" size={27} /><T x={1629} y={2012} s="140 mb" size={27} /><T x={1844} y={2014} s="160 mb" size={27} />
      <T x={1633} y={2058} s="Chr3 (human)" size={27} />
    </svg>
  );
}

export default function App() {
  return (
    <div style={{ position: 'absolute', left: 0, top: 0, width: 2136, height: 2129, background: '#fff', overflow: 'hidden' }}>
      <PanelA />
      <PanelB />
      <PanelC />
      <PanelD />
      <PanelE />
      <PanelF />
      <Overlay />
    </div>
  );
}
